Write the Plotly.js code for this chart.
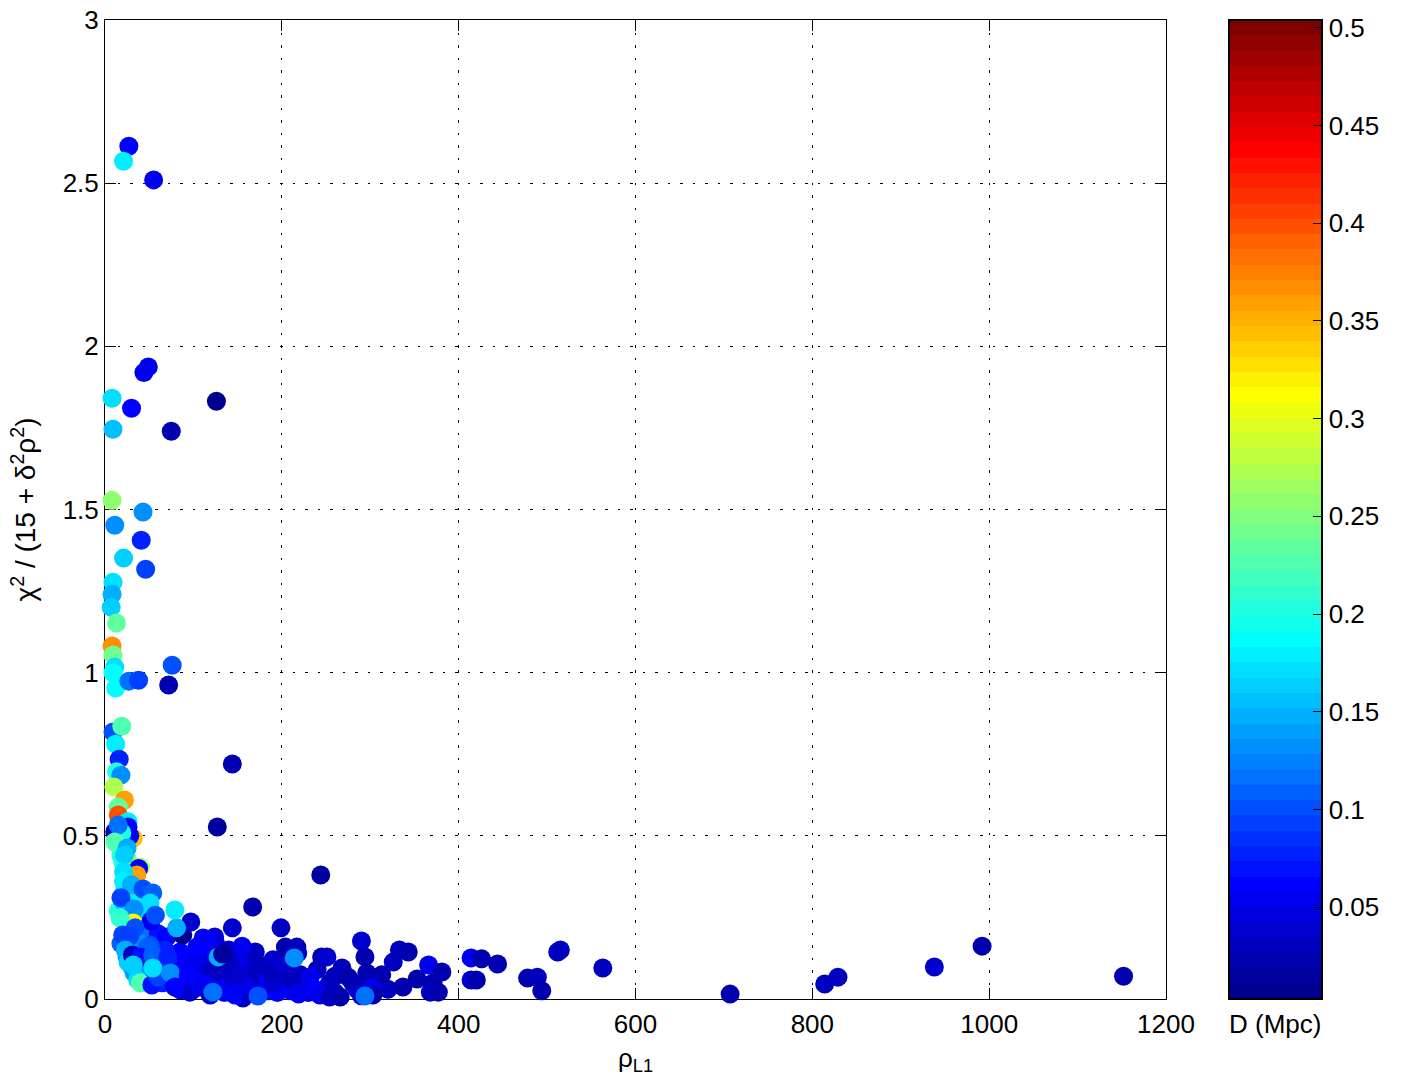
<!DOCTYPE html>
<html><head><meta charset="utf-8">
<script src="https://cdn.plot.ly/plotly-3.0.1.min.js"></script>
<style>html,body{margin:0;padding:0;background:#fff}</style></head>
<body><div id="chart" style="width:1414px;height:1084px"></div>
<script>
const rho = [
60,70,75,85,90,95,100,100,105,110,110,115,118,125,125,130,135,135,140,145,145,150,155,155,160,165,170,175,178,180,185,190,195,195,200,205,210,210,225,230,240,248,260,280,285,290,300,320,260,
18,15,25,22,35,45,30,35,45,50,60,45,60,70,30,40,65,33,25,20,18,25,28,30,33,20,22,
156,138,136,164,190,136,149,172,189,201,170,204,217,218,221,232,254,268,275,296,313,326,333,343,366,381,353,371,337,368,377,219,238,243,254,266,302,303,245,251,294,290,199,167,144,155,
414,426,444,414,420,478,489,494,515,512,563,707,814,829,938,992,1152,
85,96,107,119,130,147,158,113,102,124,141,153,128,133,111,124,104,85,88,97,115,68,51,
9,19,12,16,13,18,10,22,15,15,26,11,32,28,26,19,15,11,25,22,40,38,36,21,21,30,43,54,18,51,33,
32,52,81,57,79,17,34,20,28,23,26,31,48,40,54,71,37,40,53,60,32,54,74,94,79,122,173,294,214,
27,21,55,44,49,30,126,75,8,9,8,43,11,41,21,46,9,8,7,13,8,9,76,11,9,12,27,38,72,144,127,244
];
const chi = [
.15,.1,.05,.09,.06,.13,.03,.09,.15,.06,.11,.03,.15,.05,.17,.11,.02,.07,.15,.04,.09,.13,.02,.06,.1,.03,.07,.02,.1,.05,.025,.12,.02,.07,.04,.09,.025,.06,.05,.02,.09,.03,.02,.05,.03,.01,.06,.03,.07,
.17,.27,.28,.33,.3,.25,.1,.14,.11,.06,.1,.2,.2,.19,.25,.17,.05,.08,.13,.42,.44,.43,.36,.41,.37,.5,.29,
.003,.028,.058,.058,.049,.141,.098,.104,.083,.11,.144,.159,.159,.141,.074,.067,.049,.095,.067,.08,.074,.113,.15,.144,.104,.083,.061,.049,.037,.021,.021,.015,.028,.012,.006,.006,.034,.012,.129,.129,.129,.178,.218,.282,.218,.162,
.126,.123,.107,.058,.058,.064,.067,.025,.15,.144,.095,.015,.046,.067,.098,.162,.07,
.028,.021,.043,.012,.028,.012,.043,.104,.119,.089,.104,.074,.129,.138,.187,.19,.159,.144,.196,.236,.181,.15,.165,
.818,.836,.781,.735,.696,.686,.65,.61,.588,.564,.543,.512,.493,.5,.527,.509,.533,.481,.463,.441,.404,.4,.38,.39,.36,.35,.337,.325,.31,.294,.276,
.233,.239,.218,.257,.273,.248,.218,.196,.193,.15,.113,.135,.159,.129,.135,.129,.058,.049,.043,.067,.104,.095,.08,.074,.037,.021,.009,.009,.126,
2.613,2.567,2.51,1.92,1.937,1.81,1.832,1.74,1.841,1.746,1.528,1.492,1.452,1.406,1.351,1.317,1.277,1.24,1.2,1.152,1.082,1.054,1.023,1.017,1,.953,.974,.977,.962,.72,.527,.38
];
const dist = [
.08,.07,.06,.06,.06,.06,.06,.06,.06,.06,.06,.05,.06,.06,.04,.05,.06,.04,.035,.06,.06,.04,.06,.065,.05,.065,.035,.06,.04,.06,.06,.035,.06,.035,.05,.03,.06,.03,.04,.035,.03,.06,.03,.03,.03,.04,.025,.03,.03,
.11,.2,.16,.17,.18,.17,.14,.15,.12,.09,.1,.12,.07,.06,.07,.13,.08,.14,.13,.2,.2,.23,.3,.27,.27,.25,.16,
.03,.05,.04,.03,.04,.03,.05,.03,.03,.04,.03,.02,.03,.03,.03,.05,.03,.03,.02,.02,.02,.03,.03,.02,.05,.02,.02,.02,.02,.03,.02,.05,.06,.05,.03,.02,.05,.02,.02,.035,.02,.04,.03,.02,.04,.05,
.05,.025,.025,.04,.025,.025,.03,.02,.035,.03,.03,.02,.03,.03,.035,.02,.025,
.06,.04,.05,.03,.05,.06,.05,.04,.05,.03,.03,.04,.15,.015,.06,.045,.06,.06,.01,.04,.06,.08,.1,
.1,.23,.18,.075,.2,.13,.27,.36,.235,.4,.18,.03,.34,.06,.06,.2,.12,.23,.15,.16,.27,.06,.36,.17,.18,.15,.1,.11,.09,.17,.13,
.31,.05,.15,.1,.18,.21,.1,.09,.09,.15,.16,.03,.11,.07,.11,.08,.17,.23,.07,.09,.16,.17,.13,.06,.06,.12,.1,.12,.13,
.065,.18,.05,.05,.05,.06,.01,.025,.17,.155,.26,.13,.13,.075,.16,.09,.17,.15,.16,.235,.37,.24,.1,.175,.19,.19,.12,.09,.02,.02,.015,.015
];
const xTicks = [0,200,400,600,800,1000,1200];
const yTicks = [0,0.5,1,1.5,2,2.5,3];
const cbTicks = [0.05,0.1,0.15,0.2,0.25,0.3,0.35,0.4,0.45,0.5];
const cbLabels = ['0.05','0.1','0.15','0.2','0.25','0.3','0.35','0.4','0.45','0.5'];
const cMin = 0.003, cMax = 0.504;

function jet(i,n){
  const t=(i+1)/n, c=v=>Math.round(255*Math.max(0,Math.min(1,v)));
  const r=Math.min(4*t-1.5,-4*t+4.5), g=Math.min(4*t-0.5,-4*t+3.5), b=Math.min(4*t+0.5,-4*t+2.5);
  return `rgb(${c(r)},${c(g)},${c(b)})`;
}
const N=64, jetScale=[];
for(let i=0;i<N;i++){jetScale.push([i/N,jet(i,N)]);jetScale.push([(i+1)/N,jet(i,N)]);}

const font={family:'"Liberation Sans",Arial,sans-serif',size:26,color:'#000'};
const L=105,R=1166,T=20,B=999;
const w=R-L;
const cbLeft=(1229-L)/w;
const axisBase={showline:true,linecolor:'#000',linewidth:1,mirror:'ticks',ticks:'inside',ticklen:11,tickwidth:1,tickcolor:'#000',
  showgrid:true,gridcolor:'#000',gridwidth:1,griddash:'2.5px,10px',zeroline:false,layer:'below traces',tickfont:font,automargin:false};
const shapes=cbTicks.map(v=>({type:'line',xref:'paper',yref:'paper',x0:cbLeft,x1:cbLeft+10/w,
  y0:(v-cMin)/(cMax-cMin),y1:(v-cMin)/(cMax-cMin),line:{color:'#000',width:1}}));

Plotly.newPlot('chart',[{
  type:'scatter',mode:'markers',x:rho,y:chi,cliponaxis:false,
  marker:{size:19,color:dist,cmin:cMin,cmax:cMax,colorscale:jetScale,line:{width:0},opacity:1,
    colorbar:{x:cbLeft,xanchor:'left',xpad:0,ypad:0,y:0,yanchor:'bottom',len:1,lenmode:'fraction',thickness:93,thicknessmode:'pixels',
      outlinecolor:'#000',outlinewidth:2,ticks:'inside',ticklen:10,tickwidth:1,tickcolor:'#000',
      tickmode:'array',tickvals:cbTicks,ticktext:cbLabels,tickfont:font,ticklabelposition:'outside'}},
  hoverinfo:'x+y'
}],{
  width:1414,height:1084,showlegend:false,paper_bgcolor:'#fff',plot_bgcolor:'#fff',font:font,
  margin:{l:L,r:1414-R,t:T,b:1084-B,pad:0},
  xaxis:Object.assign({},axisBase,{range:[0,1200],tickmode:'array',tickvals:xTicks,ticktext:xTicks.map(String),ticklabelstandoff:2,
    title:{text:'ρ<sub>L1</sub>',standoff:10,font:font}}),
  yaxis:Object.assign({},axisBase,{range:[0,3],tickmode:'array',tickvals:yTicks,ticktext:yTicks.map(String),
    title:{text:'χ<sup>2</sup> / (15 + δ<sup>2</sup>ρ<sup>2</sup>)',standoff:18,font:Object.assign({},font,{size:28})}}),
  shapes:shapes,
  annotations:[{xref:'paper',yref:'paper',x:(1275-L)/w,y:0,yshift:-25,text:'D (Mpc)',showarrow:false,xanchor:'center',yanchor:'middle',font:font}]
},{displayModeBar:false,staticPlot:true});
</script></body></html>
